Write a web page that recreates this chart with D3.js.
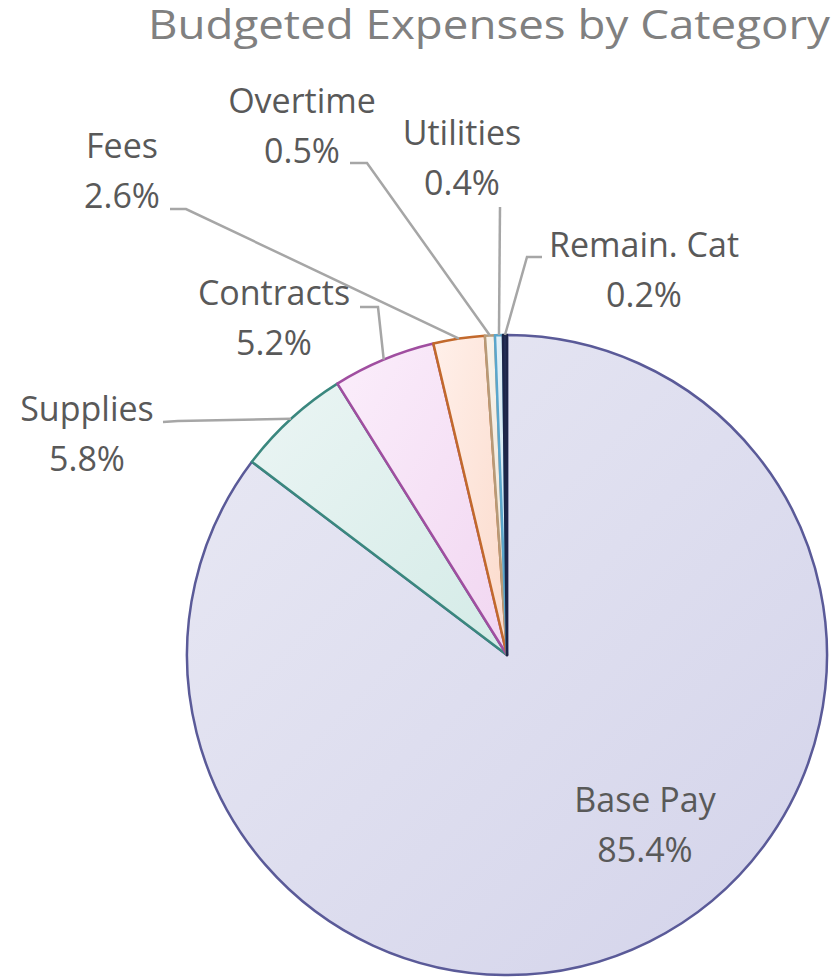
<!DOCTYPE html>
<html>
<head>
<meta charset="utf-8">
<script src="https://cdn.jsdelivr.net/npm/d3@7"></script>
<style>
  html, body { margin: 0; padding: 0; background: #fff; }
  svg { display: block; }
</style>
</head>
<body>
<div id="chart"></div>
<script>
const categories = ["Base Pay", "Supplies", "Contracts", "Fees", "Overtime", "Utilities", "Remain. Cat"];
const values = [85.4, 5.8, 5.2, 2.6, 0.5, 0.4, 0.2];
const percentLabels = ["85.4%", "5.8%", "5.2%", "2.6%", "0.5%", "0.4%", "0.2%"];
const title = "Budgeted Expenses by Category";

const width = 838;
const height = 977;
const cx = 507;
const cy = 655;
const radius = 320;

// slice colours: fill (light -> dark) and outline
const fills = [
    ["#e9e9f4", "#d3d3ea"],
    ["#ebf5f4", "#d4ebe7"],
    ["#fbeefb", "#f1d6f1"],
    ["#fff0ea", "#fbdacb"],
    ["#f8f3ec", "#efe4d6"],
    ["#e4f1f8", "#cde4f1"],
    ["#2a3560", "#1d2548"]
];
const strokes = ["#5a5a98", "#3a877e", "#a04ea0", "#c2692c", "#b79a78", "#5aa6cc", "#1d2548"];

// label placement: centre x, first baseline, and leader line start points
const labelLayout = [
    { x: 645, y: 812, leader: null },
    { x: 87, y: 421, leader: [[163, 422], [178, 421]] },
    { x: 274, y: 305, leader: [[360, 307], [378, 307]] },
    { x: 122, y: 158, leader: [[170, 209], [186, 209]] },
    { x: 302, y: 113, leader: [[350, 163], [367, 163]] },
    { x: 462, y: 145, leader: [[500, 207]] },
    { x: 644, y: 257, leader: [[542, 257], [527, 257]] }
];

const svg = d3.select("#chart").append("svg")
    .attr("width", width)
    .attr("height", height)
    .attr("viewBox", [0, 0, width, height]);

const defs = svg.append("defs");
fills.forEach((f, i) => {
    const g = defs.append("linearGradient")
        .attr("id", "fill" + i)
        .attr("x1", "0%").attr("y1", "0%")
        .attr("x2", "100%").attr("y2", "100%");
    g.append("stop").attr("offset", "0%").attr("stop-color", f[0]);
    g.append("stop").attr("offset", "100%").attr("stop-color", f[1]);
});

const pie = d3.pie().sort(null).value(d => d);
const arcs = pie(values);

const arc = d3.arc().innerRadius(0).outerRadius(radius);

const g = svg.append("g").attr("transform", `translate(${cx},${cy})`);

g.selectAll("path.slice")
    .data(arcs)
    .join("path")
    .attr("class", "slice")
    .attr("d", arc)
    .attr("fill", (d, i) => `url(#fill${i})`)
    .attr("stroke", (d, i) => strokes[i])
    .attr("stroke-width", 2.5)
    .attr("stroke-linejoin", "round");

// leader lines
const line = d3.line();
arcs.forEach((d, i) => {
    const lay = labelLayout[i];
    if (!lay.leader) return;
    const mid = (d.startAngle + d.endAngle) / 2;
    const end = [cx + radius * Math.sin(mid), cy - radius * Math.cos(mid)];
    svg.append("path")
        .attr("d", line([...lay.leader, end]))
        .attr("fill", "none")
        .attr("stroke", "#a6a6a6")
        .attr("stroke-width", 2.5);
});

// data labels
const labels = svg.append("g")
    .attr("font-family", "'Open Sans', sans-serif")
    .attr("font-size", 34)
    .attr("fill", "#595959")
    .attr("text-anchor", "middle");

categories.forEach((c, i) => {
    const lay = labelLayout[i];
    const t = labels.append("text").attr("x", lay.x).attr("y", lay.y);
    t.append("tspan").attr("x", lay.x).text(c);
    t.append("tspan").attr("x", lay.x).attr("dy", 50).text(percentLabels[i]);
});

svg.append("text")
    .attr("x", 148)
    .attr("y", 39)
    .attr("font-family", "'Open Sans', sans-serif")
    .attr("font-size", 40)
    .attr("fill", "#808080")
    .attr("textLength", 682)
    .attr("lengthAdjust", "spacingAndGlyphs")
    .text(title);
</script>
</body>
</html>
